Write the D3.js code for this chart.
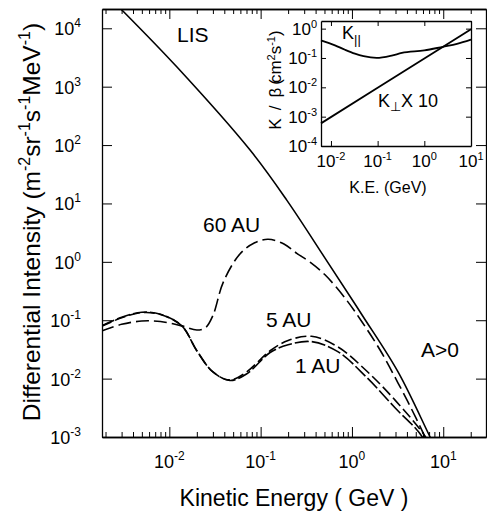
<!DOCTYPE html>
<html>
<head>
<meta charset="utf-8">
<script src="https://cdn.jsdelivr.net/npm/d3@7"></script>
<style>
  body { margin: 0; background: #fff; }
  svg { display: block; }
  text { font-family: "Liberation Sans", Arial, sans-serif; fill: #000; }
</style>
</head>
<body>
<svg class="chart" width="487" height="517"></svg>
<script>
// main panel: differential intensity vs kinetic energy (GeV)
const lisE = [0.00251, 0.00296, 0.01205, 0.0766, 0.1932, 0.507, 1.291, 3.199, 7.178, 10]
const lisI = [27500, 21300, 2190, 82, 11.4, 1.16, 0.123, 0.013, 0.001, 0.00035]

const au60E = [0.0018, 0.003, 0.005, 0.008, 0.0137, 0.02, 0.025, 0.03, 0.039, 0.059, 0.085, 0.1205, 0.18, 0.2489, 0.3475, 0.507, 0.8395, 1.291, 2.032, 3.199, 4.55, 6.324, 8.15]
const au60I = [0.065, 0.085, 0.097, 0.095, 0.08, 0.068, 0.075, 0.12, 0.45, 1.35, 2.1, 2.43, 2.02, 1.4, 0.99, 0.6, 0.24, 0.0931, 0.0309, 0.00841, 0.0029, 0.001, 0.00041]

const au5E = [0.0018, 0.003, 0.005, 0.008, 0.0137, 0.02, 0.03, 0.046, 0.07, 0.127, 0.2, 0.36, 0.7, 1.45, 3, 6.4, 8]
const au5I = [0.078, 0.11, 0.135, 0.125, 0.08, 0.03, 0.013, 0.0095, 0.013, 0.03, 0.045, 0.053, 0.035, 0.0135, 0.0042, 0.001, 0.0005]

const au1E = [0.0018, 0.003, 0.005, 0.008, 0.0137, 0.02, 0.03, 0.046, 0.07, 0.127, 0.2, 0.36, 0.7, 1.45, 3, 5.9, 8]
const au1I = [0.08, 0.112, 0.137, 0.127, 0.08, 0.03, 0.013, 0.0093, 0.012, 0.028, 0.038, 0.043, 0.029, 0.0105, 0.0031, 0.001, 0.0003]

const xTicks = [0.01, 0.1, 1, 10]
const xTickExp = ['-2', '-1', '0', '1']
const yTicks = [1e-3, 1e-2, 1e-1, 1, 10, 100, 1e3, 1e4]
const yTickExp = ['-3', '-2', '-1', '0', '1', '2', '3', '4']

// inset: diffusion coefficients
const insetE = [0.0061, 0.0122, 0.02, 0.0326, 0.05, 0.095, 0.2, 0.33, 1, 2.5, 5, 10]
const kPar = [0.40, 0.27, 0.19, 0.14, 0.115, 0.10, 0.12, 0.148, 0.18, 0.24, 0.30, 0.42]
const kPerpE = [0.0061, 0.1, 10]
const kPerp = [0.00059, 0.0096, 0.95]
const insetXTicks = [0.01, 0.1, 1, 10]
const insetXExp = ['-2', '-1', '0', '1']
const insetYTicks = [1e-4, 1e-3, 1e-2, 1e-1, 1]
const insetYExp = ['-4', '-3', '-2', '-1', '0']

const svg = d3.select('.chart')

const x = d3.scaleLog().domain([0.00183, 29.4]).range([102, 486])
const y = d3.scaleLog().domain([1e-3, 21400]).range([437, 9])

svg.append('clipPath').attr('id', 'clipMain')
  .append('rect').attr('x', 102).attr('y', 9).attr('width', 384).attr('height', 428)

// minor ticks for log axis
const minorOf = (dom) => {
  const out = []
  for (let e = -4; e <= 2; e++) for (let m = 2; m <= 9; m++) {
    const v = m * Math.pow(10, e)
    if (v > dom[0] && v < dom[1]) out.push(v)
  }
  return out
}

const g = svg.append('g')

// x axes (bottom + top), ticks pointing in
g.append('g').attr('transform', 'translate(0,437)')
  .call(d3.axisBottom(x).tickValues(xTicks).tickSize(-10).tickSizeOuter(0).tickFormat(''))
g.append('g').attr('transform', 'translate(0,437)')
  .call(d3.axisBottom(x).tickValues(minorOf(x.domain())).tickSize(-5).tickSizeOuter(0).tickFormat(''))
g.append('g').attr('transform', 'translate(0,9)')
  .call(d3.axisTop(x).tickValues(xTicks).tickSize(-10).tickSizeOuter(0).tickFormat(''))
g.append('g').attr('transform', 'translate(0,9)')
  .call(d3.axisTop(x).tickValues(minorOf(x.domain())).tickSize(-5).tickSizeOuter(0).tickFormat(''))
g.append('g').attr('transform', 'translate(102,0)')
  .call(d3.axisLeft(y).tickValues(yTicks).tickSize(-10).tickSizeOuter(0).tickFormat(''))
g.append('g').attr('transform', 'translate(486,0)')
  .call(d3.axisRight(y).tickValues(yTicks).tickSize(-10).tickSizeOuter(0).tickFormat(''))
g.selectAll('.domain').attr('stroke', '#000').attr('stroke-width', 1.3)
g.selectAll('.tick line').attr('stroke', '#000').attr('stroke-width', 1)

// tick labels with superscript exponent
const xLab = g.selectAll('.xlab').data(xTicks).join('text')
  .attr('class', 'xlab')
  .attr('x', d => x(d)).attr('y', 468)
  .attr('text-anchor', 'middle').attr('font-size', 18)
xLab.append('tspan').text('10')
xLab.append('tspan').attr('dy', -8).attr('font-size', 12).text((d, i) => xTickExp[i])

const yLab = g.selectAll('.ylab').data(yTicks).join('text')
  .attr('class', 'ylab')
  .attr('x', 81).attr('y', d => y(d) + 7)
  .attr('text-anchor', 'end').attr('font-size', 18)
yLab.append('tspan').text('10')
yLab.append('tspan').attr('dy', -8).attr('font-size', 12).text((d, i) => yTickExp[i])

// axis titles
svg.append('text').attr('x', 294).attr('y', 506)
  .attr('text-anchor', 'middle').attr('font-size', 23)
  .text('Kinetic Energy ( GeV )')

const yt = svg.append('text')
  .attr('transform', 'translate(40,222) rotate(-90)')
  .attr('text-anchor', 'middle').attr('font-size', 24.5)
yt.append('tspan').text('Differential Intensity (m')
yt.append('tspan').attr('dy', -10).attr('font-size', 16).text('-2')
yt.append('tspan').attr('dy', 10).text('sr')
yt.append('tspan').attr('dy', -10).attr('font-size', 16).text('-1')
yt.append('tspan').attr('dy', 10).text('s')
yt.append('tspan').attr('dy', -10).attr('font-size', 16).text('-1')
yt.append('tspan').attr('dy', 10).text('MeV')
yt.append('tspan').attr('dy', -10).attr('font-size', 16).text('-1')
yt.append('tspan').attr('dy', 10).text(')')

// curves
const line = d3.line().x(d => x(d[0])).y(d => y(d[1])).curve(d3.curveCatmullRom.alpha(0.5))
const curves = svg.append('g').attr('clip-path', 'url(#clipMain)')
const series = [
  { e: lisE, v: lisI, dash: null },
  { e: au60E, v: au60I, dash: '13,5' },
  { e: au5E, v: au5I, dash: '11,4' },
  { e: au1E, v: au1I, dash: '14,3' }
]
series.forEach(s => {
  curves.append('path')
    .attr('d', line(d3.zip(s.e, s.v)))
    .attr('fill', 'none').attr('stroke', '#000').attr('stroke-width', 1.6)
    .attr('stroke-dasharray', s.dash)
})

// annotations
const notes = [
  { t: 'LIS', x: 177, y: 42 },
  { t: '60 AU', x: 203, y: 232 },
  { t: '5 AU', x: 266, y: 327 },
  { t: '1 AU', x: 295, y: 373 },
  { t: 'A>0', x: 421, y: 357 }
]
svg.selectAll('.note').data(notes).join('text')
  .attr('class', 'note')
  .attr('x', d => d.x).attr('y', d => d.y)
  .attr('font-size', 21)
  .text(d => d.t)

// ---------- inset ----------
const ix = d3.scaleLog().domain([0.00612, 10]).range([321, 471])
const iy = d3.scaleLog().domain([1e-4, 1.82]).range([146, 21])

const ins = svg.append('g')
ins.append('rect').attr('x', 321).attr('y', 21).attr('width', 150).attr('height', 125)
  .attr('fill', '#fff')

ins.append('g').attr('transform', 'translate(0,146)')
  .call(d3.axisBottom(ix).tickValues(insetXTicks).tickSize(-5).tickSizeOuter(0).tickFormat(''))
ins.append('g').attr('transform', 'translate(0,21)')
  .call(d3.axisTop(ix).tickValues(insetXTicks).tickSize(-5).tickSizeOuter(0).tickFormat(''))
ins.append('g').attr('transform', 'translate(321,0)')
  .call(d3.axisLeft(iy).tickValues(insetYTicks).tickSize(-5).tickSizeOuter(0).tickFormat(''))
ins.append('g').attr('transform', 'translate(471,0)')
  .call(d3.axisRight(iy).tickValues(insetYTicks).tickSize(-5).tickSizeOuter(0).tickFormat(''))
ins.selectAll('.domain').attr('stroke', '#000').attr('stroke-width', 1.3)
ins.selectAll('.tick line').attr('stroke', '#000')

const ixLab = ins.selectAll('.ixlab').data(insetXTicks).join('text')
  .attr('class', 'ixlab')
  .attr('x', d => ix(d)).attr('y', 167)
  .attr('text-anchor', 'middle').attr('font-size', 17)
ixLab.append('tspan').text('10')
ixLab.append('tspan').attr('dy', -7).attr('font-size', 11).text((d, i) => insetXExp[i])

const iyLab = ins.selectAll('.iylab').data(insetYTicks).join('text')
  .attr('class', 'iylab')
  .attr('x', 317).attr('y', d => iy(d) + 6)
  .attr('text-anchor', 'end').attr('font-size', 17)
iyLab.append('tspan').text('10')
iyLab.append('tspan').attr('dy', -7).attr('font-size', 11).text((d, i) => insetYExp[i])

ins.append('text').attr('x', 388).attr('y', 193)
  .attr('text-anchor', 'middle').attr('font-size', 16)
  .text('K.E. (GeV)')

const iyt = ins.append('text')
  .attr('transform', 'translate(281,80) rotate(-90)')
  .attr('text-anchor', 'middle').attr('font-size', 17)
iyt.append('tspan').text('K')
iyt.append('tspan').attr('dx', 8).text('/')
iyt.append('tspan').attr('dx', 8).text('β')
iyt.append('tspan').attr('dx', 3).text('(')
iyt.append('tspan').attr('dx', -4).text('cm')
iyt.append('tspan').attr('dy', -6).attr('font-size', 11).text('2')
iyt.append('tspan').attr('dy', 6).text('s')
iyt.append('tspan').attr('dy', -6).attr('font-size', 11).text('-1')
iyt.append('tspan').attr('dy', 6).text(')')

const iline = d3.line().x(d => ix(d[0])).y(d => iy(d[1])).curve(d3.curveMonotoneX)
ins.append('path').attr('d', iline(d3.zip(insetE, kPar)))
  .attr('fill', 'none').attr('stroke', '#000').attr('stroke-width', 1.8)
ins.append('path').attr('d', iline(d3.zip(kPerpE, kPerp)))
  .attr('fill', 'none').attr('stroke', '#000').attr('stroke-width', 1.8)

const kp = ins.append('text').attr('x', 342).attr('y', 39).attr('font-size', 18)
kp.append('tspan').text('K')
kp.append('tspan').attr('dy', 5).attr('font-size', 13).text('||')

const kq = ins.append('text').attr('x', 378).attr('y', 107).attr('font-size', 18)
kq.append('tspan').text('K')
kq.append('tspan').attr('dy', 4).attr('font-size', 13).text('⊥')
kq.append('tspan').attr('dy', -4).text('X 10')
</script>
</body>
</html>
